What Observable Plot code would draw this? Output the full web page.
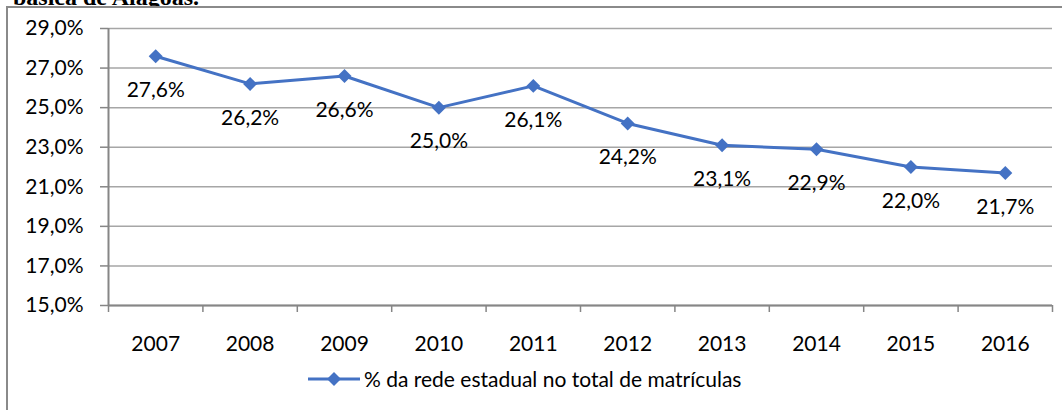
<!DOCTYPE html>
<html>
<head>
<meta charset="utf-8">
<script src="https://cdn.jsdelivr.net/npm/d3@7"></script>
<script src="https://cdn.jsdelivr.net/npm/@observablehq/plot@0.6"></script>
<style>
  html, body { margin: 0; padding: 0; background: #fff; overflow: hidden; }
  #page { position: relative; width: 1062px; height: 410px; overflow: hidden; }
  #title { position: absolute; left: 13px; top: -15px; font-family: "Liberation Serif", "Times New Roman", serif; font-weight: bold; font-size: 24px; line-height: 1; white-space: nowrap; color: #000; }
  #frame { position: absolute; left: 6px; top: 6px; width: 1200px; height: 600px; border-left: 2px solid #8a8a8a; border-top: 2px solid #8a8a8a; background: #fff; }
  #chart { position: absolute; left: 0; top: 0; }
  #legend { position: absolute; left: 308px; top: 366px; font-family: Lato, "Open Sans", sans-serif; font-size: 21px; line-height: 1.2; color: #000; white-space: nowrap; display: flex; align-items: center; }
  #legend svg { display: block; margin-right: 2px; }
</style>
</head>
<body>
<div id="page">
  <div id="title">básica de Alagoas.</div>
  <div id="frame"></div>
  <div id="chart"></div>
  <div id="legend"></div>
</div>
<script>
const years = [2007, 2008, 2009, 2010, 2011, 2012, 2013, 2014, 2015, 2016];
const shares = [27.6, 26.2, 26.6, 25.0, 26.1, 24.2, 23.1, 22.9, 22.0, 21.7];
const yTicks = [15, 17, 19, 21, 23, 25, 27, 29];
const seriesName = "% da rede estadual no total de matrículas";
const lineColor = "#4472C4";

const data = years.map((year, i) => ({year, value: shares[i]}));
const pct = v => v.toFixed(1).replace(".", ",") + "%";
const boundaries = years.map(y => y - 0.5).concat([years[years.length - 1] + 0.5]);

const chart = Plot.plot({
  width: 1062,
  height: 360,
  marginLeft: 108,
  marginRight: 10,
  marginTop: 28,
  marginBottom: 55,
  style: {background: "transparent", fontFamily: "Lato, 'Open Sans', sans-serif", fontSize: "21px", color: "#000", overflow: "visible"},
  x: {type: "linear", domain: [boundaries[0], boundaries[boundaries.length - 1]], axis: null},
  y: {type: "linear", domain: [15, 29], axis: null},
  marks: [
    Plot.gridY(yTicks, {stroke: "#a6a6a6", strokeOpacity: 1, strokeWidth: 1.5}),
    Plot.axisY(yTicks, {label: null, tickSize: 8, tickPadding: 17, tickFormat: pct, stroke: "#868686", strokeWidth: 1.5, fill: "#000", fontSize: 21}),
    Plot.ruleX([boundaries[0]], {stroke: "#868686", strokeWidth: 2}),
    Plot.ruleY([15], {stroke: "#868686", strokeWidth: 2}),
    Plot.axisX(boundaries, {label: null, tickSize: 7, tickFormat: () => "", stroke: "#868686", strokeWidth: 1.5}),
    Plot.axisX(years, {label: null, tickSize: 0, tickPadding: 31, tickFormat: d => String(d), fill: "#000", fontSize: 21}),
    Plot.line(data, {x: "year", y: "value", stroke: lineColor, strokeWidth: 3}),
    Plot.dot(data, {x: "year", y: "value", symbol: "diamond2", r: 6.3, fill: lineColor, stroke: "none"}),
    Plot.text(data, {x: "year", y: "value", text: d => pct(d.value), dy: 34, fontSize: 21, fill: "#000"})
  ]
});
document.getElementById("chart").appendChild(chart);

// legend
const legend = document.getElementById("legend");
const sw = d3.create("svg").attr("width", 54).attr("height", 20);
sw.append("line").attr("x1", 0).attr("x2", 52).attr("y1", 10).attr("y2", 10).attr("stroke", lineColor).attr("stroke-width", 3);
sw.append("path").attr("d", d3.symbol(d3.symbolDiamond2, 125)()).attr("transform", "translate(26,10)").attr("fill", lineColor);
legend.appendChild(sw.node());
const span = document.createElement("span");
span.textContent = seriesName;
legend.appendChild(span);
</script>
</body>
</html>
